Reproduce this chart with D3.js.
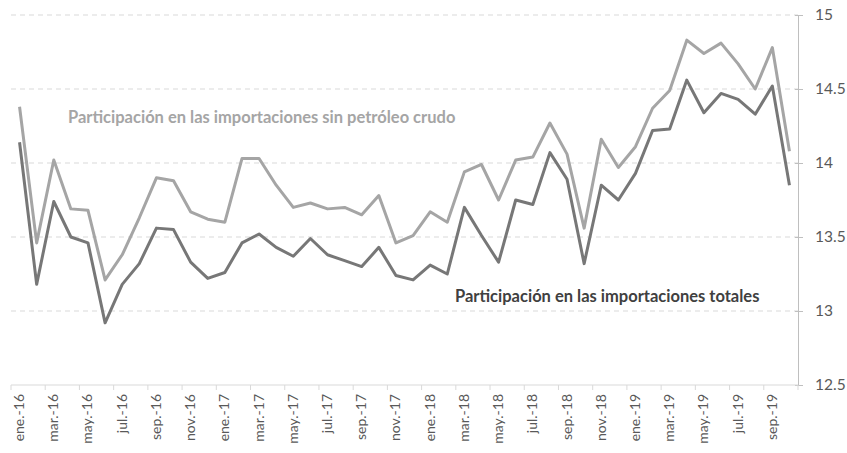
<!DOCTYPE html>
<html>
<head>
<meta charset="utf-8">
<script src="https://cdn.jsdelivr.net/npm/d3@7"></script>
<style>
  body { margin: 0; background: #fff; }
  text { font-family: Lato, "Open Sans", sans-serif; }
</style>
</head>
<body>
<div id="chart"></div>
<script>
const months = ["ene.", "feb.", "mar.", "abr.", "may.", "jun.", "jul.", "ago.", "sep.", "oct.", "nov.", "dic."];
const years = ["16", "17", "18", "19"];
const categories = [];
years.forEach(y => months.forEach(m => categories.push(`${m}-${y}`)));
categories.splice(46);

const sinPetroleo = [14.38, 13.46, 14.02, 13.69, 13.68, 13.21, 13.38, 13.63, 13.90, 13.88,
  13.67, 13.62, 13.60, 14.03, 14.03, 13.85, 13.70, 13.73, 13.69, 13.70,
  13.65, 13.78, 13.46, 13.51, 13.67, 13.60, 13.94, 13.99, 13.75, 14.02,
  14.04, 14.27, 14.06, 13.56, 14.16, 13.97, 14.11, 14.37, 14.49, 14.83,
  14.74, 14.81, 14.67, 14.50, 14.78, 14.08];

const totales = [14.14, 13.18, 13.74, 13.50, 13.46, 12.92, 13.18, 13.32, 13.56, 13.55,
  13.33, 13.22, 13.26, 13.46, 13.52, 13.43, 13.37, 13.49, 13.38, 13.34,
  13.30, 13.43, 13.24, 13.21, 13.31, 13.25, 13.70, 13.51, 13.33, 13.75,
  13.72, 14.07, 13.89, 13.32, 13.85, 13.75, 13.93, 14.22, 14.23, 14.56,
  14.34, 14.47, 14.43, 14.33, 14.52, 13.85];

const yTicks = [12.5, 13, 13.5, 14, 14.5, 15];

const width = 847, height = 453;
const margin = { top: 15, right: 49, bottom: 68, left: 11 };

const svg = d3.select("#chart").append("svg")
    .attr("width", width)
    .attr("height", height);

const x = d3.scaleBand()
    .domain(categories)
    .range([margin.left, width - margin.right]);

const y = d3.scaleLinear()
    .domain([12.5, 15])
    .range([height - margin.bottom, margin.top]);

// dashed gridlines
svg.append("g")
  .selectAll("line")
  .data(yTicks.slice(1))
  .join("line")
    .attr("x1", margin.left)
    .attr("x2", width - margin.right)
    .attr("y1", d => y(d))
    .attr("y2", d => y(d))
    .attr("stroke", "#d9d9d9")
    .attr("stroke-width", 1)
    .attr("stroke-dasharray", "5,4");

// right axis
const yAxis = svg.append("g")
    .attr("transform", `translate(${width - margin.right},0)`)
    .call(d3.axisRight(y).tickValues(yTicks).tickSize(5).tickPadding(12).tickFormat(d3.format("")));
yAxis.select(".domain").attr("stroke", "#bfbfbf");
yAxis.selectAll(".tick line").attr("stroke", "#bfbfbf").attr("x1", -3);
yAxis.selectAll(".tick text").attr("fill", "#595959").style("font-size", "15.5px");

// bottom axis: ticks between every two categories
const xBottom = height - margin.bottom;
const bx = svg.append("g");
bx.append("line")
    .attr("x1", margin.left).attr("x2", width - margin.right)
    .attr("y1", xBottom).attr("y2", xBottom)
    .attr("stroke", "#d9d9d9");
bx.selectAll("line.tk")
  .data(categories.filter((d, i) => i % 2 === 0).concat(["end"]))
  .join("line")
    .attr("class", "tk")
    .attr("x1", d => d === "end" ? x.range()[1] : x(d))
    .attr("x2", d => d === "end" ? x.range()[1] : x(d))
    .attr("y1", xBottom)
    .attr("y2", xBottom + 5)
    .attr("stroke", "#d9d9d9");
bx.selectAll("text")
  .data(categories.filter((d, i) => i % 2 === 0))
  .join("text")
    .attr("transform", d => `translate(${x(d) + x.bandwidth() / 2 + 4.5},${xBottom + 9}) rotate(-90)`)
    .attr("text-anchor", "end")
    .attr("fill", "#595959")
    .style("font-size", "14px")
    .text(d => d);

const line = d3.line()
    .x((d, i) => x(categories[i]) + x.bandwidth() / 2)
    .y(d => y(d));

svg.append("path")
    .datum(sinPetroleo)
    .attr("fill", "none")
    .attr("stroke", "#a5a5a5")
    .attr("stroke-width", 3)
    .attr("stroke-linejoin", "round")
    .attr("d", line);

svg.append("path")
    .datum(totales)
    .attr("fill", "none")
    .attr("stroke", "#777777")
    .attr("stroke-width", 3)
    .attr("stroke-linejoin", "round")
    .attr("d", line);

svg.append("text")
    .attr("x", 68)
    .attr("y", 123)
    .attr("fill", "#a5a5a5")
    .style("font-size", "16.5px")
    .style("font-weight", "bold")
    .text("Participación en las importaciones sin petróleo crudo");

svg.append("text")
    .attr("x", 455)
    .attr("y", 302)
    .attr("fill", "#404040")
    .style("font-size", "16.5px")
    .style("font-weight", "bold")
    .text("Participación en las importaciones totales");
</script>
</body>
</html>
